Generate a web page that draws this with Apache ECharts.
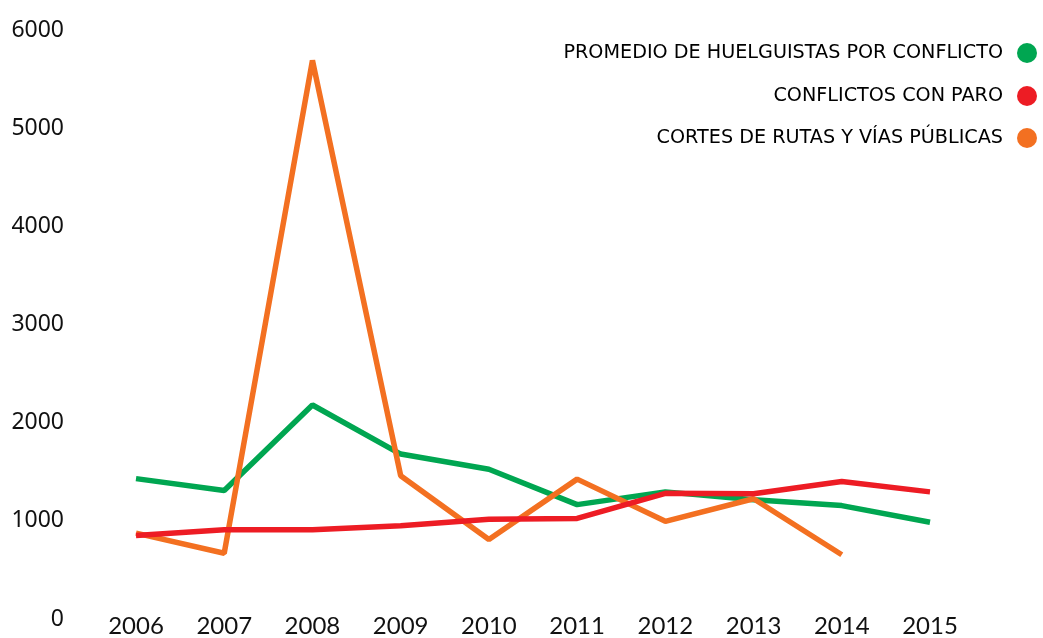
<!DOCTYPE html>
<html>
<head>
<meta charset="utf-8">
<script src="https://cdn.jsdelivr.net/npm/echarts@6/dist/echarts.min.js"></script>
<style>
  html, body { margin: 0; padding: 0; background: #ffffff; }
  #chart { width: 1043px; height: 638px; }
</style>
</head>
<body>
<div id="chart"></div>
<script>
// Years on the horizontal axis
const years = ['2006', '2007', '2008', '2009', '2010', '2011', '2012', '2013', '2014', '2015'];

// Series names
const nameHuelguistas = 'PROMEDIO DE HUELGUISTAS POR CONFLICTO';
const nameParo = 'CONFLICTOS CON PARO';
const nameCortes = 'CORTES DE RUTAS Y VÍAS PÚBLICAS';

// Yearly values per series
const huelguistas = [1430, 1310, 2180, 1680, 1525, 1165, 1295, 1215, 1155, 985];
const conflictosParo = [850, 910, 910, 950, 1015, 1025, 1280, 1275, 1400, 1295];
const cortes = [875, 670, 5690, 1460, 810, 1425, 995, 1225, 655, null];

// Value axis ticks
const yTicks = [0, 1000, 2000, 3000, 4000, 5000, 6000];

const GREEN = '#00a651';
const RED = '#ed1c24';
const ORANGE = '#f37021';

const chart = echarts.init(document.getElementById('chart'), null, { renderer: 'canvas' });

function legendFor(name, top) {
  return {
    data: [name],
    right: 6,
    top: top,
    padding: 0,
    align: 'right',
    icon: 'circle',
    itemWidth: 20,
    itemHeight: 20,
    selectedMode: false,
    textStyle: {
      fontFamily: 'DejaVu Sans',
      fontWeight: 'normal',
      fontSize: 19.2,
      color: '#000000',
      padding: [0, 9, 0, 0]
    }
  };
}

chart.setOption({
  animation: false,
  backgroundColor: '#ffffff',
  legend: [
    legendFor(nameHuelguistas, 43),
    legendFor(nameParo, 86),
    legendFor(nameCortes, 128)
  ],
  grid: { left: 136, right: 113, top: 30, bottom: 18, containLabel: false },
  xAxis: {
    type: 'category',
    data: years,
    boundaryGap: false,
    axisLine: { show: false },
    axisTick: { show: false },
    splitLine: { show: false },
    axisLabel: {
      margin: -5,
      fontFamily: 'Lato',
      fontSize: 24,
      color: '#111111'
    }
  },
  yAxis: {
    type: 'value',
    min: yTicks[0],
    max: yTicks[yTicks.length - 1],
    interval: 1000,
    axisLine: { show: false },
    axisTick: { show: false },
    splitLine: { show: false },
    axisLabel: {
      margin: 72,
      fontFamily: 'Noto Sans',
      fontSize: 23,
      color: '#111111',
      formatter: function (v) { return String(v); }
    }
  },
  series: [
    {
      name: nameHuelguistas,
      type: 'line',
      data: huelguistas,
      symbol: 'none',
      color: GREEN,
      lineStyle: { width: 5.5, color: GREEN },
      z: 2
    },
    {
      name: nameCortes,
      type: 'line',
      data: cortes,
      symbol: 'none',
      color: ORANGE,
      lineStyle: { width: 5.5, color: ORANGE },
      z: 3
    },
    {
      name: nameParo,
      type: 'line',
      data: conflictosParo,
      symbol: 'none',
      color: RED,
      lineStyle: { width: 5.5, color: RED },
      z: 4
    }
  ]
});
</script>
</body>
</html>
